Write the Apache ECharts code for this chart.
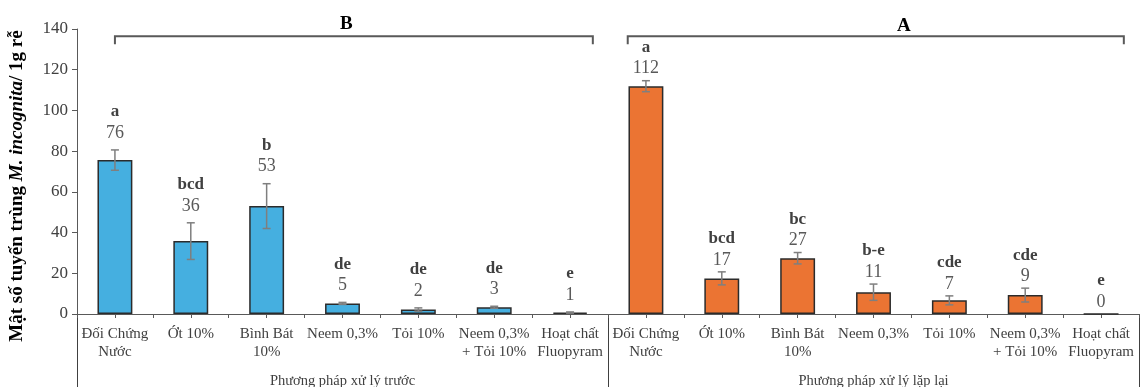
<!DOCTYPE html>
<html><head><meta charset="utf-8">
<script src="https://cdn.jsdelivr.net/npm/echarts@6/dist/echarts.min.js"></script>
<style>html,body{margin:0;padding:0;background:#fff}#c{width:1140px;height:387px}</style>
</head><body><div id="c"></div>
<script>
const treatments = ['Đối Chứng\nNước', 'Ớt 10%', 'Bình Bát\n10%', 'Neem 0,3%', 'Tỏi 10%', 'Neem 0,3%\n+ Tỏi 10%', 'Hoạt chất\nFluopyram'];
const groups = ['Phương pháp xử lý trước', 'Phương pháp xử lý lặp lại'];
const groupMarks = ['B', 'A'];
const valuesPre = [75.6, 35.8, 53.0, 5.2, 2.2, 3.3, 0.7];
const errPre = [5.0, 9.0, 11.0, 0.5, 0.8, 0.5, 0.3];
const labelsPre = ['76', '36', '53', '5', '2', '3', '1'];
const lettersPre = ['a', 'bcd', 'b', 'de', 'de', 'de', 'e'];
const valuesRep = [111.9, 17.5, 27.4, 10.7, 6.7, 9.3, 0];
const errRep = [2.7, 3.2, 2.8, 4.0, 2.2, 3.4, 0];
const labelsRep = ['112', '17', '27', '11', '7', '9', '0'];
const lettersRep = ['a', 'bcd', 'bc', 'b-e', 'cde', 'cde', 'e'];

const categories = treatments.concat(treatments);
const n = treatments.length;
const dash = treatments.map(() => '-');
const allVals = valuesPre.concat(valuesRep);
const allErr = errPre.concat(errRep);
const allLabels = labelsPre.concat(labelsRep);
const allLetters = lettersPre.concat(lettersRep);
const halfTicks = Array.from({length: categories.length * 2}, (_, i) => String(i));

const FONT = 'Liberation Serif';
const chart = echarts.init(document.getElementById('c'));

// bracket layout (category-unit offsets)
const bracketLayout = [
  {from: 0, to: n - 1, padL: 0, padR: 0.3, labelAt: 3.05},
  {from: n, to: 2 * n - 1, padL: -0.24, padR: 0.3, labelAt: n + 3.4}
];

chart.setOption({
  animation: false,
  grid: {left: 77, right: 1, top: 29, bottom: 73, outerBoundsMode: 'none', containLabel: false},
  xAxis: [
    {type: 'category', data: categories, position: 'bottom',
     axisLine: {lineStyle: {color: '#595959', width: 1}},
     axisTick: {show: false},
     axisLabel: {interval: 0, margin: 11, fontFamily: FONT, fontSize: 15, color: '#404040', lineHeight: 18}},
    {type: 'category', data: groups, position: 'bottom',
     axisLine: {show: false},
     axisTick: {show: true, length: 73, interval: 0, lineStyle: {color: '#404040', width: 1}},
     axisLabel: {interval: 0, margin: 60, fontFamily: FONT, fontSize: 14.5, color: '#404040'}},
    {type: 'category', data: halfTicks, position: 'bottom',
     axisLine: {show: false},
     axisTick: {show: true, length: 4, interval: 0, lineStyle: {color: '#595959'}},
     axisLabel: {show: false}}
  ],
  yAxis: {type: 'value', min: 0, max: 140, interval: 20,
    axisLine: {show: true, lineStyle: {color: '#595959'}},
    axisTick: {show: true, length: 5, lineStyle: {color: '#595959'}},
    splitLine: {show: false},
    axisLabel: {margin: 9, fontFamily: FONT, fontSize: 17, color: '#404040'}},
  graphic: [{
    type: 'text', x: 17, y: 186, rotation: Math.PI / 2,
    style: {
      text: '{b|Mật số tuyến trùng }{i|M. incognita}{b|/ 1g rễ}',
      align: 'center', verticalAlign: 'middle',
      rich: {
        b: {fontFamily: FONT, fontSize: 19, fontWeight: 'bold', fill: '#000'},
        i: {fontFamily: FONT, fontSize: 19, fontWeight: 'bold', fontStyle: 'italic', fill: '#000'}
      }
    }
  }],
  series: [
    {type: 'bar', name: groups[0], data: valuesPre.concat(dash), barWidth: '46%', barGap: '-100%',
     itemStyle: {color: '#45AFE0', borderColor: '#2b2b2b', borderWidth: 1.5}},
    {type: 'bar', name: groups[1], data: dash.concat(valuesRep), barWidth: '46%', barGap: '-100%',
     itemStyle: {color: '#EB7433', borderColor: '#2b2b2b', borderWidth: 1.5}},
    {type: 'custom', name: 'err', clip: false, z: 5,
     data: allVals.map((v, i) => [i, v, allErr[i]]),
     renderItem: function (params, api) {
       const i = api.value(0), v = api.value(1), e = api.value(2);
       const top = api.coord([i, v + e]);
       const bot = api.coord([i, v - e]);
       const ch = [];
       if (e > 0) {
         const st = {stroke: '#7F7F7F', lineWidth: 1.5};
         ch.push({type: 'line', shape: {x1: top[0], y1: top[1], x2: bot[0], y2: bot[1]}, style: st});
         ch.push({type: 'line', shape: {x1: top[0] - 4, y1: top[1], x2: top[0] + 4, y2: top[1]}, style: st});
         ch.push({type: 'line', shape: {x1: bot[0] - 4, y1: bot[1], x2: bot[0] + 4, y2: bot[1]}, style: st});
       }
       const idx = params.dataIndex;
       const ty = top[1] - (idx < n ? 17 : 12);
       ch.push({type: 'text', x: top[0], y: ty, style: {text: allLabels[idx], align: 'center', verticalAlign: 'middle',
         fontFamily: FONT, fontSize: 18, fill: '#595959'}});
       ch.push({type: 'text', x: top[0], y: ty - 21, style: {text: allLetters[idx], align: 'center', verticalAlign: 'middle',
         fontFamily: FONT, fontSize: 17, fontWeight: 'bold', fill: '#404040'}});
       return {type: 'group', children: ch};
     }},
    {type: 'custom', name: 'brackets', clip: false, z: 5,
     data: groupMarks.map((m, k) => [k, 136.5, 142.5]),
     renderItem: function (params, api) {
       const k = api.value(0);
       const L = bracketLayout[k];
       const band = api.size([1, 0])[0];
       const y = api.coord([0, api.value(1)])[1];
       const yl = api.coord([0, api.value(2)])[1] + (k === 1 ? 2 : 0);
       const x1 = api.coord([L.from, 0])[0] + L.padL * band;
       const x2 = api.coord([L.to, 0])[0] + L.padR * band;
       const xl = api.coord([0, 0])[0] + L.labelAt * band;
       const st = {stroke: '#595959', lineWidth: 2, fill: null};
       return {type: 'group', children: [
         {type: 'polyline', shape: {points: [[x1, y + 8], [x1, y], [x2, y], [x2, y + 8]]}, style: st},
         {type: 'text', x: xl, y: yl, style: {text: groupMarks[k], align: 'center', verticalAlign: 'middle',
           fontFamily: FONT, fontSize: 19, fontWeight: 'bold', fill: '#000'}}
       ]};
     }}
  ]
});
</script></body></html>
